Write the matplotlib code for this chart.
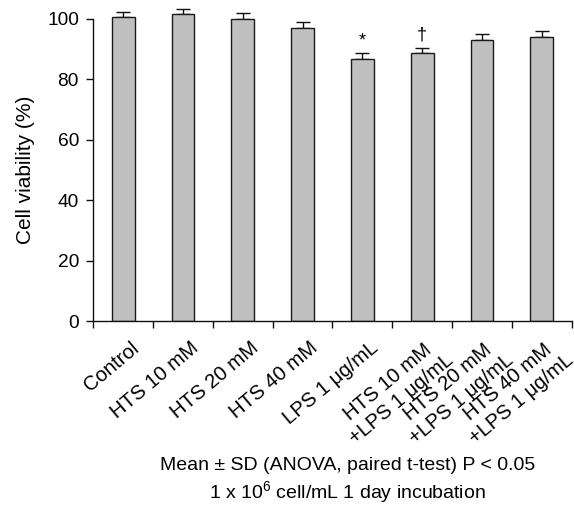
import matplotlib
matplotlib.use("Agg")
import matplotlib.pyplot as plt
import matplotlib.transforms as mtransforms
import numpy as np

plt.rcParams["font.family"] = ["Liberation Sans", "DejaVu Sans"]
plt.rcParams["mathtext.fontset"] = "custom"
plt.rcParams["mathtext.rm"] = "Liberation Sans"
plt.rcParams["mathtext.it"] = "Liberation Sans:italic"

# ---- data ----
categories = ["Control", "HTS 10 mM", "HTS 20 mM", "HTS 40 mM", "LPS 1 μg/mL",
              "HTS 10 mM\n+LPS 1 μg/mL", "HTS 20 mM\n+LPS 1 μg/mL",
              "HTS 40 mM\n+LPS 1 μg/mL"]
viability = [100.5, 101.4, 100.0, 97.0, 86.7, 88.7, 93.1, 93.8]
sd = [1.6, 1.8, 1.9, 2.0, 1.9, 1.7, 1.8, 2.2]
marks = ["", "", "", "", "*", "†", "", ""]
y_ticks = [0, 20, 40, 60, 80, 100]
y_label = "Cell viability (%)"
caption1 = "Mean ± SD (ANOVA, paired t-test) P < 0.05"
caption2 = r"1 x 10$^{6}$ cell/mL 1 day incubation"

fig = plt.figure(figsize=(5.74, 5.12), dpi=100)
ax = fig.add_axes([0.1625, 0.3727, 0.8334, 0.6203])

x = np.arange(len(categories))
ax.bar(x, viability, width=0.38, color="#c0c0c0", edgecolor="#1a1a1a",
       linewidth=1.0, zorder=2)
ax.errorbar(x, viability, yerr=[np.zeros(len(sd)), sd], fmt="none",
            ecolor="#111111", elinewidth=1.0, capsize=4.8, capthick=1.0, zorder=1)

for xi, v, s, m in zip(x, viability, sd, marks):
    if m:
        ax.annotate(m, (xi, v + s), xytext=(0, 3), textcoords="offset points",
                    ha="center", va="bottom", fontsize=13)

ax.set_xlim(-0.5, len(categories) - 0.5)
ax.set_ylim(0, 105)
ax.spines["top"].set_visible(False)
ax.spines["right"].set_visible(False)
ax.spines["left"].set_bounds(0, 100)
for sp in ("left", "bottom"):
    ax.spines[sp].set_linewidth(1.0)
    ax.spines[sp].set_color("#111111")

ax.set_yticks(y_ticks)
ax.tick_params(axis="y", direction="out", length=5.3, width=1.0, pad=5,
               labelsize=13.8, color="#111111")

ax.set_xticks(x)
ax.set_xticklabels(categories, rotation=40, ha="right", va="top",
                   rotation_mode="anchor", fontsize=14.6, linespacing=1.2,
                   multialignment="center")
ax.tick_params(axis="x", which="major", length=0, pad=12.4)
ax.set_xticks(np.arange(len(categories) + 1) - 0.5, minor=True)
ax.tick_params(axis="x", which="minor", direction="out", length=5, width=1.0,
               color="#111111")
for lab in ax.get_xticklabels():
    two_line = "\n" in lab.get_text()
    dx, dy = (9, 5) if two_line else (7, 0)
    shift = mtransforms.ScaledTranslation(dx / 100, dy / 100, fig.dpi_scale_trans)
    lab.set_transform(lab.get_transform() + shift)

ax.set_ylabel(y_label, fontsize=15)
ax.yaxis.set_label_coords(-0.122, 0.476)

fig.text(0.606, 1 - 470 / 512, caption1, ha="center", va="baseline", fontsize=14)
fig.text(0.606, 1 - 498 / 512, caption2, ha="center", va="baseline", fontsize=14)

fig.savefig("out.png", dpi=100)
